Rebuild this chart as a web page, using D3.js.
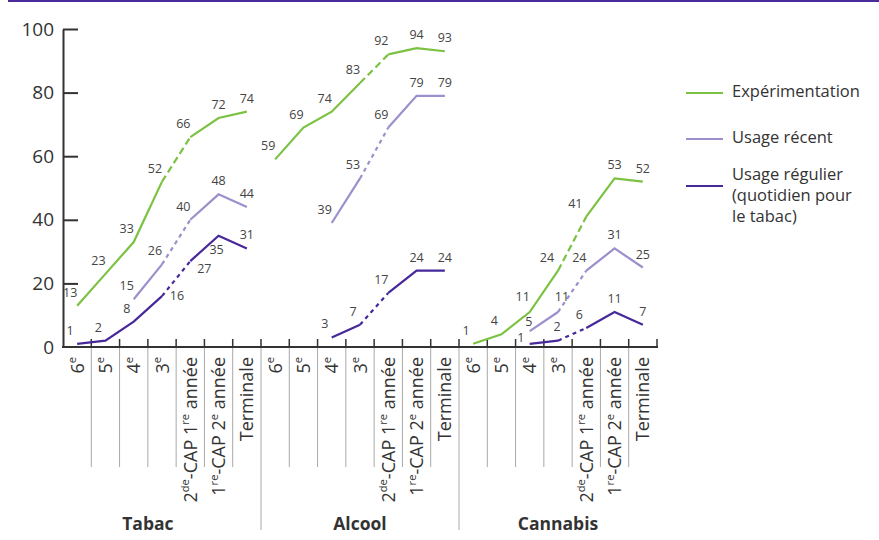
<!DOCTYPE html>
<html>
<head>
<meta charset="utf-8">
<script src="https://cdn.jsdelivr.net/npm/d3@7"></script>
<style>
  html, body { margin: 0; padding: 0; background: #fff; }
  svg { display: block; font-family: "Open Sans", "Noto Sans", sans-serif; }
</style>
</head>
<body>
<svg id="chart" width="879" height="540"></svg>
<script>
// ---------- DATA ----------
const groups = ["Tabac", "Alcool", "Cannabis"];
const categories = ["6{e}", "5{e}", "4{e}", "3{e}", "2{de}-CAP 1{re} année", "1{re}-CAP 2{e} année", "Terminale"];
const yTicks = [0, 20, 40, 60, 80, 100];
const seriesNames = ["Expérimentation", "Usage récent", "Usage régulier (quotidien pour le tabac)"];
const legendLines = [["Expérimentation"], ["Usage récent"], ["Usage régulier", "(quotidien pour", "le tabac)"]];

const tabacExp      = [13, 23, 33, 52, 66, 72, 74];
const tabacRecent   = [null, null, 15, 26, 40, 48, 44];
const tabacRegular  = [1, 2, 8, 16, 27, 35, 31];
const alcoolExp     = [59, 69, 74, 83, 92, 94, 93];
const alcoolRecent  = [null, null, 39, 53, 69, 79, 79];
const alcoolRegular = [null, null, 3, 7, 17, 24, 24];
const cannabisExp     = [1, 4, 11, 24, 41, 53, 52];
const cannabisRecent  = [null, null, 5, 11, 24, 31, 25];
const cannabisRegular = [null, null, 1, 2, 6, 11, 7];

const colors = ["#7cc242", "#9d8fcb", "#46289b"];
const dashes = ["7,4", "4,4", "4,4"];

const seriesByGroup = [
  [tabacExp, tabacRecent, tabacRegular],
  [alcoolExp, alcoolRecent, alcoolRegular],
  [cannabisExp, cannabisRecent, cannabisRegular]
];

// ---------- SCALES ----------
const svg = d3.select("#chart");
const keys = [];
groups.forEach((g, gi) => categories.forEach((c, ci) => keys.push(gi + "|" + ci)));

const x = d3.scaleBand().domain(keys).range([63, 657]).padding(0);
const y = d3.scaleLinear().domain([0, 100]).range([347, 29]);
const bw = x.bandwidth();
const cx = k => x(k) + bw / 2;

// top border
svg.append("line").attr("x1", 8).attr("x2", 879).attr("y1", 1).attr("y2", 1)
  .attr("stroke", "#4b2a9b").attr("stroke-width", 2);

// ---------- Y AXIS ----------
const yAxis = d3.axisLeft(y).tickValues(yTicks).tickSize(-15).tickSizeOuter(0).tickPadding(9);
const gy = svg.append("g").attr("transform", "translate(63,0)").call(yAxis);
gy.select(".domain").attr("stroke", "#333").attr("stroke-width", 2);
gy.selectAll(".tick line").attr("stroke", "#333").attr("stroke-width", 2)
  .attr("opacity", d => d === 0 ? 0 : 1);
gy.selectAll(".tick text").attr("font-size", 19).attr("fill", "#333")
  .attr("font-family", "'Open Sans', sans-serif");

// ---------- X AXIS ----------
svg.append("line").attr("x1", 62).attr("x2", 658).attr("y1", y(0)).attr("y2", y(0))
  .attr("stroke", "#333").attr("stroke-width", 2);
svg.append("g").selectAll("line").data(keys).join("line")
  .attr("x1", d => x(d) + bw).attr("x2", d => x(d) + bw)
  .attr("y1", y(0)).attr("y2", y(0) - 8)
  .attr("stroke", "#333").attr("stroke-width", 1.5);

// separators below axis
svg.append("g").selectAll("line").data(keys.slice(0, -1)).join("line")
  .attr("x1", d => x(d) + bw).attr("x2", d => x(d) + bw)
  .attr("y1", y(0) + 1)
  .attr("y2", d => (+d.split("|")[1] === categories.length - 1) ? 530 : 467)
  .attr("stroke", "#a8a8a8").attr("stroke-width", 1);

// category labels (rotated, with superscripts)
const catSize = 18;
function addRich(textSel, str, baseSize) {
  const parts = str.split(/(\{[^}]*\})/).filter(p => p.length);
  let raised = false;
  parts.forEach(p => {
    if (p.startsWith("{")) {
      textSel.append("tspan").text(p.slice(1, -1)).attr("font-size", baseSize * 0.62).attr("dy", -7.5);
      raised = true;
    } else {
      const t = textSel.append("tspan").text(p);
      if (raised) { t.attr("dy", 7.5); raised = false; }
    }
  });
}
keys.forEach(k => {
  const ci = +k.split("|")[1];
  const t = svg.append("text")
    .attr("transform", `translate(${cx(k) + 6.5},357) rotate(-90)`)
    .attr("text-anchor", "end")
    .attr("font-size", catSize).attr("fill", "#333");
  addRich(t, categories[ci], catSize);
});

// group labels
groups.forEach((g, gi) => {
  const first = x(gi + "|0") - (gi === 0 ? bw : 0), last = x(gi + "|" + (categories.length - 1)) + bw;
  svg.append("text").attr("x", (first + last) / 2).attr("y", 530)
    .attr("text-anchor", "middle").attr("font-size", 17.5).attr("font-weight", "bold")
    .attr("fill", "#333").text(g);
});

// ---------- LINES ----------
const line = d3.line().defined(d => d.v != null).x(d => cx(d.k)).y(d => y(d.v));
seriesByGroup.forEach((arr, gi) => {
  arr.forEach((vals, si) => {
    const pts = vals.map((v, ci) => ({ k: gi + "|" + ci, v, ci }));
    const college = pts.filter(p => p.ci <= 3);
    const lycee = pts.filter(p => p.ci >= 4);
    const bridge = pts.filter(p => p.ci === 3 || p.ci === 4);
    [college, lycee].forEach(seg => {
      svg.append("path").datum(seg).attr("d", line).attr("fill", "none")
        .attr("stroke", colors[si]).attr("stroke-width", 2.2)
        .attr("stroke-linejoin", "miter");
    });
    svg.append("path").datum(bridge).attr("d", line).attr("fill", "none")
      .attr("stroke", colors[si]).attr("stroke-width", 2.2)
      .attr("stroke-dasharray", dashes[si]);

    // value labels
    pts.filter(p => p.v != null).forEach(p => {
      let dx = p.ci <= 4 ? -7 : 0, dy = -9;
      if (gi === 0 && si === 2) {
        if (p.ci === 3) { dx = 15; dy = 4; }
        else if (p.ci === 4) { dx = 14; dy = 12; }
        else if (p.ci === 5) { dx = -2; dy = 18; }
      }
      if (gi === 2) {
        if (si === 1 && p.ci === 2) { dx = -1; dy = -5; }
        if (si === 2 && p.ci === 2) { dx = -9; dy = -2; }
        if (si === 2 && p.ci === 3) { dx = -1; dy = -10; }
        if (si === 0 && p.ci === 2) { dy = -11; }
        if (si === 0 && (p.ci === 3 || p.ci === 4)) { dx = -11; }
        if (si === 1 && p.ci === 3) { dx = 4; dy = -11; }
      }
      svg.append("text").attr("x", cx(p.k) + dx).attr("y", y(p.v) + dy)
        .attr("text-anchor", "middle").attr("font-size", 12.5).attr("fill", "#444")
        .text(p.v);
    });
  });
});

// ---------- LEGEND ----------
const legY = [93, 139, 186];
legendLines.forEach((lines, i) => {
  svg.append("line").attr("x1", 686).attr("x2", 723).attr("y1", legY[i]).attr("y2", legY[i])
    .attr("stroke", colors[i]).attr("stroke-width", 2);
  const t = svg.append("text").attr("x", 732).attr("font-size", 16.5).attr("fill", "#333");
  const top = legY[i] + 3.5 - (i === 2 ? 10 : 0);
  lines.forEach((l, li) => {
    t.append("tspan").attr("x", 732).attr("y", top + li * 21).text(l);
  });
});
</script>
</body>
</html>
